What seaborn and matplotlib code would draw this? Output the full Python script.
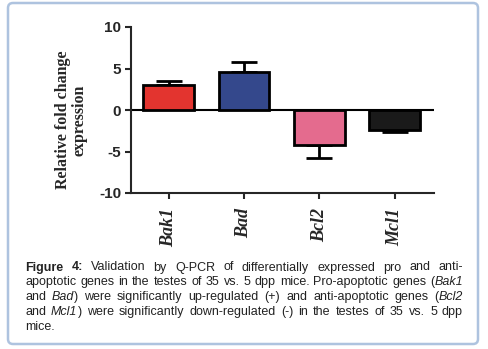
import matplotlib
matplotlib.use("Agg")
import matplotlib.pyplot as plt
import seaborn as sns
from matplotlib.patches import FancyBboxPatch
from matplotlib.transforms import IdentityTransform

# Valeurs
genes = ["Bak1", "Bad", "Bcl2", "Mcl1"]
fold_change = [3.0, 4.6, -4.25, -2.4]
sem = [0.55, 1.15, 1.55, 0.3]
bar_colors = ["#e3342f", "#34488c", "#e46b8e", "#1a1a1a"]
yticks = [-10, -5, 0, 5, 10]

# _texte_ = italique, ** devant le mot = gras
caption_lines = [
    "**Figure **4: Validation by Q-PCR of differentially expressed pro and anti-",
    "apoptotic genes in the testes of 35 vs. 5 dpp mice. Pro-apoptotic genes (_Bak1_",
    "and _Bad_) were significantly up-regulated (+) and anti-apoptotic genes (_Bcl2_",
    "and _Mcl1_) were significantly down-regulated (-) in the testes of 35 vs. 5 dpp",
    "mice.",
]

sns.set_style("ticks")
plt.rcParams["font.family"] = ["Liberation Sans", "DejaVu Sans"]
plt.rcParams["axes.unicode_minus"] = False

W, H = 488, 349
fig = plt.figure(figsize=(W / 100, H / 100), dpi=100)
fig.patch.set_facecolor("white")

# Cadre arrondi autour de la figure
frame = FancyBboxPatch((8, 5), 470, 341, boxstyle="round,pad=0,rounding_size=5",
                       transform=IdentityTransform(), fill=False,
                       edgecolor="#aec3df", linewidth=1.8)
fig.add_artist(frame)

ax = fig.add_axes([131 / W, 1 - 193 / H, (434 - 131) / W, (193 - 27) / H])
ax.axhline(0, color="black", linewidth=1.5, zorder=1)
sns.barplot(x=genes, y=fold_change, hue=genes, palette=bar_colors, legend=False,
            saturation=1, width=0.675, edgecolor="black", linewidth=2,
            errorbar=None, ax=ax, zorder=2)

# Barres d'erreur unilatérales (vers le haut si positif, vers le bas si négatif)
lower = [e if v < 0 else 0 for v, e in zip(fold_change, sem)]
upper = [e if v > 0 else 0 for v, e in zip(fold_change, sem)]
ax.errorbar(range(len(genes)), fold_change, yerr=[lower, upper], fmt="none",
            ecolor="black", elinewidth=2, capsize=9.5, capthick=2, zorder=1.5)

ax.set_ylim(-10, 10)
ax.set_xlim(-0.5, 3.52)
ax.set_yticks(yticks)
sns.despine(ax=ax)
for s in ["left", "bottom"]:
    ax.spines[s].set_linewidth(1.5)
ax.tick_params(axis="y", length=4, width=1.5, pad=3)
ax.tick_params(axis="x", length=4, width=1.5, pad=7)
for lab in ax.get_yticklabels():
    lab.set_fontweight("bold")
    lab.set_fontsize(11)
ax.set_xticks(range(len(genes)))
ax.set_xticklabels(genes, rotation=90, family="Liberation Serif", style="italic",
                   fontweight="bold", fontsize=13)

ax.set_ylabel("Relative fold change\nexpression", family="Liberation Serif",
              fontweight="bold", fontsize=11.5, linespacing=1.0, va="center")
ax.yaxis.set_label_coords((71 - 131) / 303, (193 - 120) / 166)

# Légende justifiée sous le graphique
renderer = fig.canvas.get_renderer()
left, right = 25, 463
baselines = [270.5, 285.3, 300.1, 315.0, 329.8]
for i, line in enumerate(caption_lines):
    words = []
    for w in line.split(" "):
        weight = "normal"
        if w.startswith("**"):
            w = w.replace("**", "")
            weight = "bold"
        parts = []
        for k, seg in enumerate(w.split("_")):
            if not seg:
                continue
            t = fig.text(0, H - baselines[i], seg, transform=IdentityTransform(),
                         fontsize=9.0, fontweight=weight,
                         fontstyle="italic" if k % 2 else "normal",
                         va="baseline", ha="left", color="#222222")
            parts.append((t, t.get_window_extent(renderer).width))
        words.append(parts)
    widths = [sum(p[1] for p in parts) for parts in words]
    if i < len(caption_lines) - 1 and len(words) > 1:
        gap = (right - left - sum(widths)) / (len(words) - 1)
    else:
        gap = 2.6
    x = left
    for parts, wd in zip(words, widths):
        xx = x
        for t, pw in parts:
            t.set_x(xx)
            xx += pw
        x += wd + gap

plt.savefig("out.png", dpi=100)
